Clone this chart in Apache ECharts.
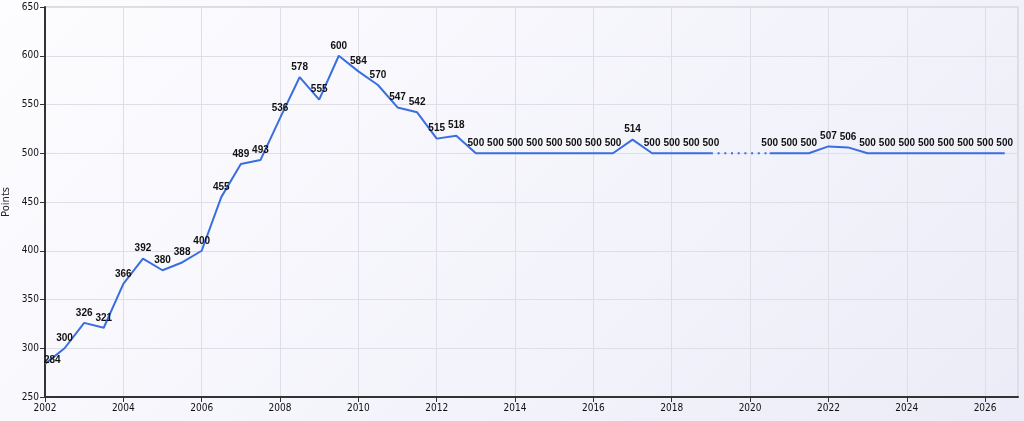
<!DOCTYPE html>
<html>
<head>
<meta charset="utf-8">
<script src="https://cdn.jsdelivr.net/npm/echarts@6/dist/echarts.min.js"></script>
<style>
html,body{margin:0;padding:0;}
#chart{width:1024px;height:421px;background:linear-gradient(135deg,#fdfdff 0%,#f3f3fb 60%,#ececf8 100%);}
</style>
</head>
<body>
<div id="chart"></div>
<script>
// half-year time points
const years = [2002,2002.5,2003,2003.5,2004,2004.5,2005,2005.5,2006,2006.5,2007,2007.5,2008,2008.5,2009,2009.5,2010,2010.5,2011,2011.5,2012,2012.5,2013,2013.5,2014,2014.5,2015,2015.5,2016,2016.5,2017,2017.5,2018,2018.5,2019,2019.5,2020,2020.5,2021,2021.5,2022,2022.5,2023,2023.5,2024,2024.5,2025,2025.5,2026,2026.5];
const points = [284,300,326,321,366,392,380,388,400,455,489,493,536,578,555,600,584,570,547,542,515,518,500,500,500,500,500,500,500,500,514,500,500,500,500,null,null,500,500,500,507,506,500,500,500,500,500,500,500,500];
const gapYears = [2019,2020.5];
const gapPoints = [500,500];
const xTicks = [2002,2004,2006,2008,2010,2012,2014,2016,2018,2020,2022,2024,2026];

const mainData = years.map((y,i)=>{
  const d = {value:[y,points[i]]};
  if(i===0) d.label = {show:true,position:'insideBottomLeft',offset:[0,0],align:'left',verticalAlign:'bottom',distance:0};
  return d;
});
const gapData = gapYears.map((y,i)=>[y,gapPoints[i]]);

const chart = echarts.init(document.getElementById('chart'));
chart.setOption({
  animation:false,
  backgroundColor:'transparent',
  grid:{left:45,right:6,top:7,bottom:24,outerBoundsMode:'none',containLabel:false,show:true,borderColor:'#dcdce2',borderWidth:2,backgroundColor:'transparent'},
  xAxis:{
    type:'value',min:2002,max:2026.84,interval:2,
    axisLine:{show:true,onZero:false,lineStyle:{color:'#333',width:2}},
    axisTick:{show:true,length:5,lineStyle:{color:'#333'}},
    axisLabel:{color:'#111',fontSize:10,fontFamily:'DejaVu Sans Condensed, DejaVu Sans',margin:6,
      formatter:v=>xTicks.includes(v)?String(v):'',showMaxLabel:false},
    splitLine:{show:true,lineStyle:{color:'#dedee6',width:1}}
  },
  yAxis:{
    type:'value',min:250,max:650,interval:50,
    name:'Points',nameLocation:'middle',nameGap:26,nameRotate:90,
    nameTextStyle:{color:'#222',fontSize:10,fontFamily:'DejaVu Sans'},
    axisLine:{show:true,lineStyle:{color:'#333',width:2}},
    axisTick:{show:true,length:5,lineStyle:{color:'#333'}},
    axisLabel:{color:'#111',fontSize:10,fontFamily:'DejaVu Sans Condensed, DejaVu Sans',margin:6},
    splitLine:{show:true,lineStyle:{color:'#dedee6',width:1}}
  },
  series:[
    {type:'line',data:mainData,showSymbol:true,symbol:'circle',symbolSize:2,connectNulls:false,
     itemStyle:{color:'rgba(0,0,0,0)',borderColor:'rgba(0,0,0,0)',borderWidth:0},
     lineStyle:{color:'#3a6ee0',width:2},
     labelLayout:{hideOverlap:false},
     label:{show:true,position:'top',distance:4,color:'#111',fontSize:10,fontWeight:'bold',fontFamily:'Liberation Sans, Arial',
       formatter:p=>p.value[1]==null?'':String(p.value[1])}},
    {type:'line',data:gapData,showSymbol:false,symbol:'none',
     lineStyle:{color:'#3a6ee0',width:2,type:[2,4.7]},silent:true}
  ]
});
</script>
</body>
</html>
